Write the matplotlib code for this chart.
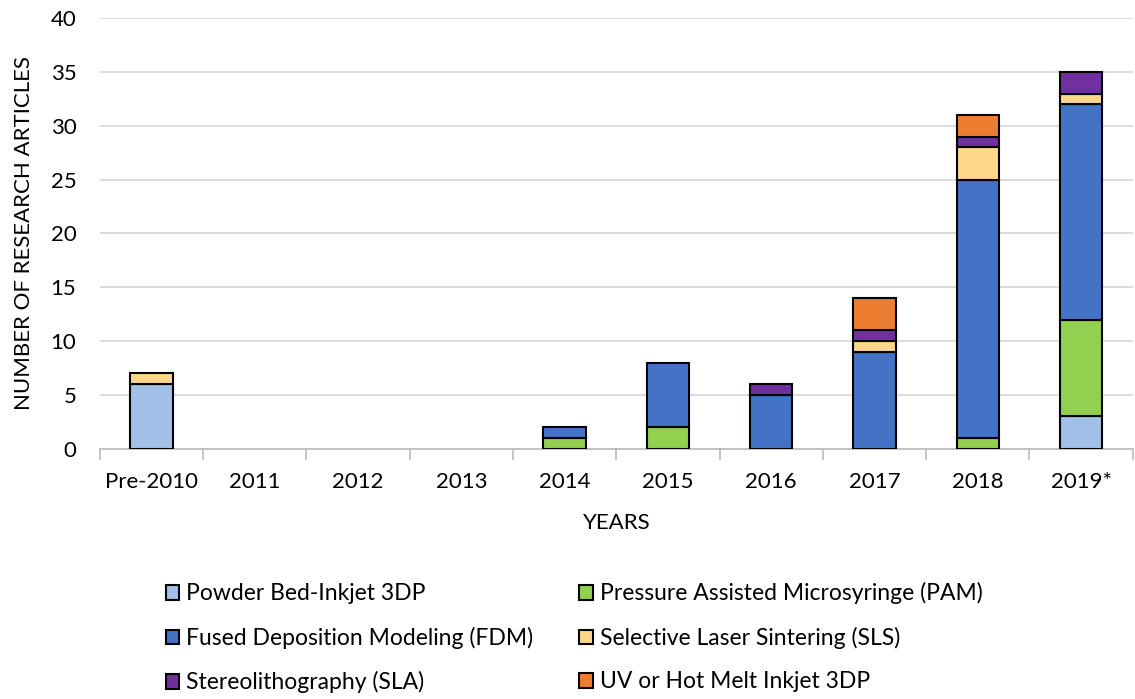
import matplotlib.pyplot as plt
import numpy as np

plt.rcParams['font.family'] = ['Lato', 'DejaVu Sans']

years = ['Pre-2010', '2011', '2012', '2013', '2014', '2015', '2016', '2017', '2018', '2019*']

# counts per technology, stacked bottom to top
powder = [6, 0, 0, 0, 0, 0, 0, 0, 0, 3]
pam = [0, 0, 0, 0, 1, 2, 0, 0, 1, 9]
fdm = [0, 0, 0, 0, 1, 6, 5, 9, 24, 20]
sls = [1, 0, 0, 0, 0, 0, 0, 1, 3, 1]
sla = [0, 0, 0, 0, 0, 0, 1, 1, 1, 2]
uv = [0, 0, 0, 0, 0, 0, 0, 3, 2, 0]

labels = ['Powder Bed-Inkjet 3DP', 'Pressure Assisted Microsyringe (PAM)',
          'Fused Deposition Modeling (FDM)', 'Selective Laser Sintering (SLS)',
          'Stereolithography (SLA)', 'UV or Hot Melt Inkjet 3DP']
colors = ['#a2c0e8', '#92d050', '#4472c4', '#ffd78a', '#7030a0', '#ed7d31']
series = [powder, pam, fdm, sls, sla, uv]

fig = plt.figure(figsize=(11.35, 6.99), dpi=100)
ax = fig.add_axes([0.088, 0.358, 0.91, 0.616])

x = np.arange(len(years))
bottom = np.zeros(len(years))
handles = []
for vals, lab, col in zip(series, labels, colors):
    vals = np.array(vals, dtype=float)
    mask = vals > 0
    h = ax.bar(x[mask], vals[mask], 0.41, bottom=bottom[mask], color=col,
               edgecolor='black', linewidth=1.5, label=lab, zorder=3)
    handles.append(h)
    bottom += vals

ax.set_xlim(-0.5, len(years) - 0.5)
ax.set_ylim(0, 40)
ax.set_yticks(range(0, 41, 5))
ax.yaxis.grid(True, color='#d9d9d9', linewidth=1.3, zorder=0)
ax.set_xticks(x)
ax.set_xticklabels(years)
ax.set_xticks(np.arange(-0.5, len(years), 1), minor=True)
ax.tick_params(axis='x', which='major', length=0, pad=17, labelsize=16)
ax.tick_params(axis='x', which='minor', length=8, color='#bfbfbf', width=1.3)
ax.tick_params(axis='y', length=0, pad=17, labelsize=16)
for s in ['top', 'right', 'left']:
    ax.spines[s].set_visible(False)
ax.spines['bottom'].set_color('#bfbfbf')
ax.spines['bottom'].set_linewidth(1.3)

ax.set_xlabel('YEARS', fontsize=16, labelpad=15)
ax.set_ylabel('NUMBER OF RESEARCH ARTICLES', fontsize=16, labelpad=12)

order = [0, 2, 4, 1, 3, 5]
fig.legend([handles[i] for i in order], [labels[i] for i in order], ncol=2,
           loc='upper left', bbox_to_anchor=(0.146, 0.167), frameon=False,
           fontsize=16.5, handlelength=0.6, handleheight=0.6, handletextpad=0.3,
           columnspacing=2.0, labelspacing=0.98, borderaxespad=0, borderpad=0)

fig.savefig('out.png', dpi=100)
